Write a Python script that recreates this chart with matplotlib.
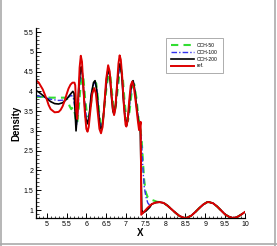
import numpy as np
import matplotlib
matplotlib.use("Agg")
import matplotlib.pyplot as plt
from matplotlib.ticker import MultipleLocator, FuncFormatter
from matplotlib.lines import Line2D

plt.rcParams['font.family'] = ['Liberation Sans', 'DejaVu Sans']

# -----------------------
# DATA
# -----------------------
# shared smooth tail behind the shock (ref. solution)
tail_x = [7.45, 7.55, 7.65, 7.75, 7.85, 7.95, 8.05, 8.15, 8.25, 8.35, 8.45, 8.5,
          8.55, 8.65, 8.75, 8.85, 8.95, 9.05, 9.1, 9.2, 9.3, 9.4, 9.5, 9.6,
          9.7, 9.8, 9.9, 10.0]
tail_y = [0.95, 1.06, 1.15, 1.19, 1.20, 1.18, 1.11, 1.02, 0.93, 0.85, 0.81, 0.80,
          0.81, 0.86, 0.95, 1.05, 1.14, 1.20, 1.20, 1.17, 1.09, 0.99, 0.89, 0.83,
          0.80, 0.82, 0.88, 0.95]

ref_x = [4.73, 4.8, 4.9, 5.0, 5.05, 5.1, 5.2, 5.3, 5.35, 5.4, 5.45, 5.5, 5.55,
         5.6, 5.65, 5.7, 5.72, 5.745, 5.77, 5.80, 5.83, 5.86, 5.89, 5.92, 5.96,
         6.0, 6.03, 6.06, 6.10, 6.15, 6.20, 6.24, 6.28, 6.33, 6.37, 6.41, 6.45,
         6.50, 6.55, 6.59, 6.63, 6.67, 6.70, 6.73, 6.77, 6.81, 6.84, 6.87, 6.91,
         6.95, 6.99, 7.01, 7.04, 7.08, 7.12, 7.16, 7.20, 7.25, 7.30, 7.33, 7.35,
         7.37, 7.38, 7.385]
ref_y = [4.28, 4.22, 4.05, 3.80, 3.65, 3.55, 3.47, 3.48, 3.53, 3.62, 3.75, 3.92, 4.07,
         4.17, 4.22, 4.22, 4.15, 3.5, 3.3, 3.9, 4.6, 4.9, 4.75, 4.2, 3.5,
         3.05, 2.98, 3.1, 3.5, 3.95, 4.08, 3.95, 3.55, 3.05, 2.94, 3.1, 3.6,
         4.3, 4.66, 4.5, 4.0, 3.55, 3.40, 3.55, 4.1, 4.7, 4.91, 4.8, 4.3,
         3.6, 3.15, 3.11, 3.25, 3.75, 4.15, 4.25, 4.1, 3.7, 3.25, 3.02, 3.1,
         3.23, 2.0, 0.88]

cch200_x = [4.73, 4.8, 4.9, 5.0, 5.1, 5.2, 5.3, 5.4, 5.5, 5.6, 5.66, 5.69, 5.71,
            5.74, 5.77, 5.81, 5.85, 5.87, 5.90, 5.94, 5.98, 6.03, 6.07, 6.12, 6.18,
            6.22, 6.26, 6.30, 6.34, 6.38, 6.42, 6.47, 6.52, 6.55, 6.59, 6.63, 6.67,
            6.70, 6.74, 6.78, 6.82, 6.85, 6.89, 6.93, 6.98, 7.02, 7.06, 7.11, 7.15,
            7.18, 7.22, 7.27, 7.32, 7.36, 7.38, 7.40, 7.43, 7.5, 7.6]
cch200_y = [4.02, 3.98, 3.90, 3.82, 3.74, 3.69, 3.68, 3.71, 3.80, 3.93, 4.0, 3.95, 3.6,
            3.0, 3.4, 4.1, 4.55, 4.62, 4.45, 3.85, 3.35, 3.18, 3.35, 3.9, 4.22,
            4.27, 4.05, 3.55, 3.12, 3.03, 3.25, 3.85, 4.4, 4.56, 4.4, 3.9, 3.5,
            3.42, 3.65, 4.2, 4.6, 4.70, 4.45, 3.85, 3.3, 3.14, 3.4, 3.95, 4.22,
            4.27, 4.05, 3.6, 3.2, 3.05, 2.0, 1.0, 0.93, 0.97, 1.07]

cch100_x = [4.73, 4.9, 5.1, 5.3, 5.45, 5.55, 5.62, 5.67, 5.71, 5.75, 5.78, 5.82,
            5.86, 5.88, 5.91, 5.95, 6.0, 6.04, 6.08, 6.13, 6.19, 6.23, 6.27, 6.31,
            6.35, 6.39, 6.43, 6.48, 6.53, 6.56, 6.60, 6.64, 6.68, 6.71, 6.75, 6.79,
            6.83, 6.86, 6.90, 6.94, 6.99, 7.03, 7.07, 7.12, 7.16, 7.19, 7.23, 7.28,
            7.33, 7.37, 7.40, 7.43, 7.46, 7.5, 7.55, 7.6, 7.7]
cch100_y = [3.89, 3.86, 3.80, 3.77, 3.78, 3.85, 3.9, 3.85, 3.6, 3.15, 3.4, 4.05,
            4.5, 4.55, 4.38, 3.8, 3.35, 3.25, 3.45, 3.95, 4.2, 4.22, 4.0, 3.5,
            3.15, 3.1, 3.35, 3.9, 4.4, 4.52, 4.35, 3.9, 3.52, 3.45, 3.7, 4.2,
            4.55, 4.6, 4.4, 3.8, 3.3, 3.2, 3.45, 3.95, 4.18, 4.22, 4.0, 3.55,
            3.15, 3.0, 2.6, 2.0, 1.6, 1.35, 1.18, 1.12, 1.17]

cch50_x = [4.73, 4.9, 5.1, 5.3, 5.45, 5.52, 5.58, 5.62, 5.66, 5.70, 5.74, 5.77,
           5.81, 5.86, 5.90, 5.93, 5.97, 6.02, 6.06, 6.10, 6.16, 6.21, 6.25, 6.29,
           6.33, 6.37, 6.41, 6.46, 6.52, 6.57, 6.61, 6.66, 6.70, 6.73, 6.78, 6.83,
           6.88, 6.92, 6.96, 7.01, 7.05, 7.09, 7.14, 7.18, 7.21, 7.26, 7.32, 7.37,
           7.40, 7.43, 7.46, 7.5, 7.55, 7.6, 7.7, 7.78, 7.85]
cch50_y = [3.86, 3.86, 3.84, 3.84, 3.84, 3.80, 3.62, 3.55, 3.6, 3.5, 3.25, 3.2,
           3.6, 4.2, 4.4, 4.3, 3.8, 3.4, 3.35, 3.55, 4.05, 4.25, 4.2, 3.85,
           3.4, 3.15, 3.2, 3.65, 4.2, 4.45, 4.35, 3.85, 3.52, 3.52, 3.95, 4.4,
           4.55, 4.35, 3.8, 3.3, 3.25, 3.5, 3.95, 4.18, 4.18, 3.85, 3.3, 3.0,
           2.7, 2.2, 1.75, 1.45, 1.32, 1.28, 1.24, 1.21, 1.20]


def with_tail(xs, ys):
    # append the part of the ref. tail that lies to the right of the series
    x0 = xs[-1]
    tx = [x for x in tail_x if x > x0]
    ty = [y for x, y in zip(tail_x, tail_y) if x > x0]
    return list(xs) + tx, list(ys) + ty


# -----------------------
# FIGURE
# -----------------------
fig = plt.figure(figsize=(2.77, 2.46), dpi=100)
ax = fig.add_axes([0.130, 0.114, 0.754, 0.772])

x, y = with_tail(cch50_x, cch50_y)
ax.plot(x, y, color='#33dd33', lw=1.5, ls=(0, (3.5, 2.5)), label='CCH-50')
x, y = with_tail(cch100_x, cch100_y)
ax.plot(x, y, color='#3333ee', lw=1.0, ls=(0, (4, 1.5, 1, 1.5)), label='CCH-100')
x, y = with_tail(cch200_x, cch200_y)
ax.plot(x, y, color='black', lw=1.2, label='CCH-200')
x, y = with_tail(ref_x, ref_y)
ax.plot(x, y, color='#dd0000', lw=1.4, label='ref.')

ax.set_xlim(4.73, 10.0)
ax.set_ylim(0.8, 5.6)

for side in ['top', 'right']:
    ax.spines[side].set_visible(False)
for side in ['left', 'bottom']:
    ax.spines[side].set_linewidth(0.9)

ax.xaxis.set_major_locator(MultipleLocator(0.5))
ax.xaxis.set_minor_locator(MultipleLocator(0.1))
ax.yaxis.set_major_locator(MultipleLocator(0.5))
ax.yaxis.set_minor_locator(MultipleLocator(0.1))
fmt = FuncFormatter(lambda v, p: f"{v:g}")
ax.xaxis.set_major_formatter(fmt)
ax.yaxis.set_major_formatter(fmt)
ax.tick_params(which='both', direction='in', top=False, right=False,
               labelsize=5, pad=2)
ax.tick_params(which='major', length=3.5, width=0.7)
ax.tick_params(which='minor', length=1.8, width=0.5)

ax.set_xlabel('X', fontsize=7, fontweight='bold', labelpad=0)
ax.set_ylabel('Density', fontsize=7, fontweight='bold', labelpad=1.5)

leg = ax.legend(loc='upper right', bbox_to_anchor=(0.905, 0.96), fontsize=3.6,
                frameon=True, fancybox=False, edgecolor='#888888',
                handlelength=4.5, borderpad=1.0, labelspacing=0.35,
                handletextpad=0.6)
leg.get_frame().set_linewidth(0.6)

# grey frame around the picture
fig.add_artist(Line2D([0.003, 0.003], [0.0, 1.0], transform=fig.transFigure,
                      color='#aaaaaa', lw=1.2))
fig.add_artist(Line2D([0.994, 0.994], [0.0, 1.0], transform=fig.transFigure,
                      color='#aaaaaa', lw=1.2))
fig.add_artist(Line2D([0.0, 1.0], [0.010, 0.010], transform=fig.transFigure,
                      color='#aaaaaa', lw=1.2))

fig.savefig('out.png', dpi=100)
